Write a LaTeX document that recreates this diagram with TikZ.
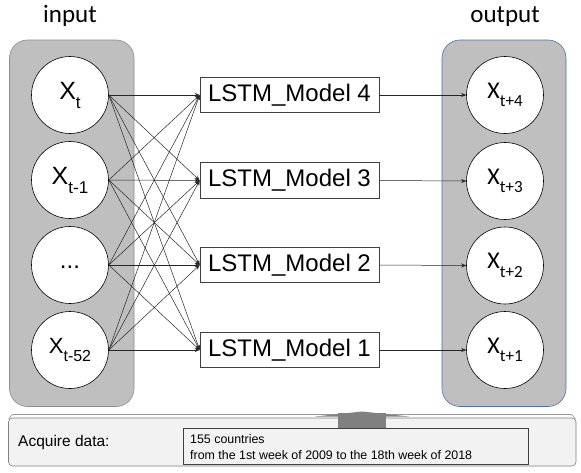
\documentclass[tikz,border=0pt]{standalone}
\usepackage{fontspec}
\setmainfont{Liberation Sans}
\newfontfamily\calfont{Carlito}
\usetikzlibrary{arrows.meta}
\definecolor{panelgray}{HTML}{BFBFBF}
\definecolor{panelborder}{HTML}{8C8C8C}
\definecolor{panelblue}{HTML}{4F6FA8}
\definecolor{basegray}{HTML}{F2F2F2}
\definecolor{arrowgray}{HTML}{808080}
\newcommand\subt[2]{\raisebox{-0.36em}{\fontsize{#1}{#1}\selectfont #2}}
\begin{document}
\begin{tikzpicture}[x=1pt,y=-1pt,
  panel/.style={fill=panelgray,rounded corners=18pt,line width=0.6pt},
  circ/.style={circle,draw=black,fill=white,line width=0.6pt,minimum size=77pt,inner sep=0pt},
  lstmbox/.style={draw=black!75,fill=white,line width=0.6pt,minimum width=179pt,minimum height=35.5pt,inner sep=0pt,font=\fontsize{24}{24}\selectfont},
  conn/.style={line width=0.5pt,draw=black!85,-{Stealth[length=5pt,width=4pt]}},
  title/.style={font=\calfont\fontsize{25}{25}\selectfont,inner sep=0pt}
]
\useasboundingbox (0,0) rectangle (581,472);

% panels
\draw[panel,draw=panelborder] (9.5,40) rectangle (134,406.5);
\draw[panel,draw=panelblue] (442,40) rectangle (566,406.5);

\node[title,anchor=base] (tin) at (70,22.7) {input};
\node[title,anchor=base] (tout) at (505,22.7) {output};

% input circles
\node[circ] (in1) at (70,95) {\fontsize{25}{25}\selectfont X\subt{17}{t}};
\node[circ] (in2) at (70,180) {\fontsize{25}{25}\selectfont X\subt{17}{t-1}};
\node[circ] (in3) at (70,265) {\raisebox{-7pt}{\fontsize{24}{24}\selectfont ...}};
\node[circ] (in4) at (70,350) {\fontsize{22}{22}\selectfont X\subt{16}{t-52}};

% output circles
\node[circ] (out4) at (505,95) {\calfont\fontsize{24}{24}\selectfont X\subt{17}{t+4}};
\node[circ] (out3) at (505,181) {\calfont\fontsize{24}{24}\selectfont X\subt{17}{t+3}};
\node[circ] (out2) at (505,265.5) {\calfont\fontsize{24}{24}\selectfont X\subt{17}{t+2}};
\node[circ] (out1) at (505,350) {\calfont\fontsize{24}{24}\selectfont X\subt{17}{t+1}};

% LSTM boxes
\node[lstmbox] (m4) at (289.5,95) {LSTM\_Model 4};
\node[lstmbox] (m3) at (289.5,180.5) {LSTM\_Model 3};
\node[lstmbox] (m2) at (289.5,265) {LSTM\_Model 2};
\node[lstmbox] (m1) at (289.5,350) {LSTM\_Model 1};

% full connections
\foreach \i in {1,2,3,4}{
  \foreach \m in {1,2,3,4}{
    \draw[conn] (in\i.east) -- (m\m.west);
  }
}
\foreach \m in {1,2,3,4}{
  \draw[conn] (m\m.east) -- (out\m.west);
}

% bottom section
\draw[arrowgray!80,line width=0.7pt] (8.5,418.5) to[out=-90,in=180] (13,414.5) -- (571,414.5) to[out=0,in=-90] (575.5,418.5);
\draw[fill=basegray,draw=arrowgray,line width=0.6pt,rounded corners=4pt] (8.5,418) rectangle (576,466);
\fill[arrowgray] (338,413) rectangle (386,428);
\fill[arrowgray] (315,416.5) -- (362,411.5) -- (409,416.5) -- cycle;
\node[draw=black!75,fill=basegray,line width=0.6pt,minimum width=345pt,minimum height=36pt,inner sep=0pt,anchor=north west] (info) at (183,428) {};
\node[anchor=west,inner sep=0pt,font=\fontsize{15.5}{15.5}\selectfont] (acq) at (18,442) {Acquire data:};
\node[anchor=west,inner sep=0pt,align=left,font=\fontsize{12.4}{16}\selectfont] (infotext) at (190,447) {155 countries\\from the 1st week of 2009 to the 18th week of 2018};
\end{tikzpicture}
\end{document}
